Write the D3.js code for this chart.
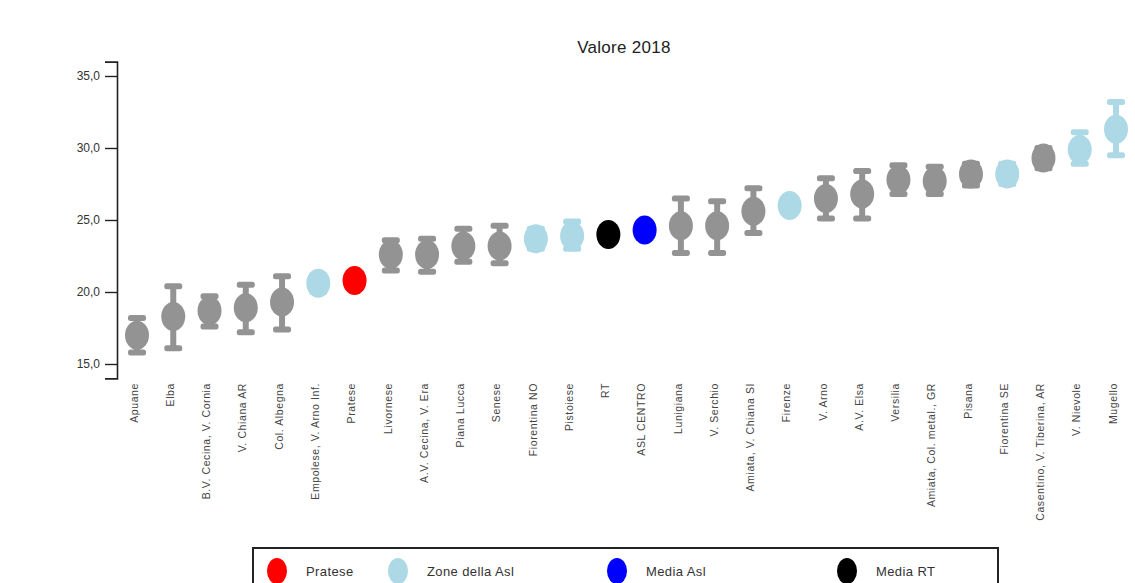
<!DOCTYPE html>
<html>
<head>
<meta charset="utf-8">
<script src="https://cdn.jsdelivr.net/npm/d3@7"></script>
<style>
  body { margin: 0; background: #fff; font-family: Arial, "Liberation Sans", sans-serif; }
</style>
</head>
<body>
<div id="chart"></div>
<script>
// zone names, in plotted order
var categories = ["Apuane", "Elba", "B.V. Cecina, V. Cornia", "V. Chiana AR", "Col. Albegna",
  "Empolese, V. Arno Inf.", "Pratese", "Livornese", "A.V. Cecina, V. Era", "Piana Lucca",
  "Senese", "Fiorentina NO", "Pistoiese", "RT", "ASL CENTRO", "Lunigiana", "V. Serchio",
  "Amiata, V. Chiana SI", "Firenze", "V. Arno", "A.V. Elsa", "Versilia",
  "Amiata, Col. metal., GR", "Pisana", "Fiorentina SE", "Casentino, V. Tiberina, AR",
  "V. Nievole", "Mugello"];
var values = [17.0, 18.3, 18.7, 18.9, 19.3, 20.6, 20.8, 22.6, 22.6, 23.2, 23.2, 23.7, 23.9,
  24.0, 24.3, 24.6, 24.6, 25.6, 26.0, 26.5, 26.8, 27.8, 27.7, 28.2, 28.2, 29.3, 29.9, 31.3];
var ciLow = [15.8, 16.1, 17.6, 17.2, 17.4, 20.0, 20.3, 21.5, 21.4, 22.1, 22.0, 23.0, 23.0,
  null, null, 22.7, 22.7, 24.1, 25.6, 25.1, 25.1, 26.8, 26.8, 27.4, 27.5, 28.6, 28.9, 29.5];
var ciHigh = [18.2, 20.4, 19.7, 20.5, 21.1, 21.2, 21.3, 23.6, 23.7, 24.4, 24.6, 24.4, 24.9,
  null, null, 26.5, 26.3, 27.2, 26.4, 27.9, 28.4, 28.8, 28.7, 28.9, 28.9, 30.0, 31.1, 33.2];
// group of each zone: g = other zones, z = zone della Asl, p = Pratese, a = media Asl, r = media RT
var groups = ["g", "g", "g", "g", "g", "z", "p", "g", "g", "g", "g", "z", "z", "r", "a", "g", "g",
  "g", "z", "g", "g", "g", "g", "g", "z", "g", "z", "z"];
var yTicks = [15, 20, 25, 30, 35];
var legendLabels = ["Pratese", "Zone della Asl", "Media Asl", "Media RT"];
var legendGroups = ["p", "z", "a", "r"];

var colors = { g: "#939393", z: "#add8e6", p: "#ff0000", a: "#0000ff", r: "#000000" };

var w = 1135, h = 583;

var data = categories.map(function(c, i) {
  return { name: c, value: values[i], lo: ciLow[i], hi: ciHigh[i], group: groups[i] };
});

var svg = d3.select("#chart").append("svg")
  .attr("width", w)
  .attr("height", h);

var xScale = d3.scalePoint()
  .domain(categories)
  .range([137, 1116]);

var yScale = d3.scaleLinear()
  .domain([14, 36])
  .range([378.4, 61.6]);

// title
svg.append("text")
  .attr("x", 624)
  .attr("y", 53)
  .attr("text-anchor", "middle")
  .style("font-size", "17px")
  .style("letter-spacing", "0.3px")
  .attr("fill", "#222")
  .text("Valore 2018");

// y axis
var yAxis = d3.axisLeft(yScale)
  .tickValues(yTicks)
  .tickSizeOuter(0)
  .tickSize(12)
  .tickPadding(5)
  .tickFormat(function(d) { return d3.format(".1f")(d).replace(".", ","); });

var gy = svg.append("g")
  .attr("transform", "translate(117,0)")
  .call(yAxis);
gy.select(".domain").attr("stroke", "#222").attr("stroke-width", 1.6);
gy.selectAll(".tick line").attr("stroke", "#222").attr("stroke-width", 1.4);
gy.selectAll(".tick text")
  .attr("fill", "#333")
  .style("font-size", "12px")
  .style("font-family", "Arial, 'Liberation Sans', sans-serif");

// category labels
svg.selectAll("text.cat")
  .data(data)
  .enter()
  .append("text")
  .attr("class", "cat")
  .attr("transform", function(d) { return "translate(" + (xScale(d.name) - 3) + ",383) rotate(-90)"; })
  .attr("text-anchor", "end")
  .attr("dy", "0.35em")
  .attr("fill", "#444")
  .style("font-size", "10.5px")
  .style("letter-spacing", "0.6px")
  .text(function(d) { return d.name; });

var withCi = data.filter(function(d) { return d.lo != null; });

// error bars
svg.selectAll("line.err")
  .data(withCi)
  .enter()
  .append("line")
  .attr("class", "err")
  .attr("x1", function(d) { return xScale(d.name); })
  .attr("x2", function(d) { return xScale(d.name); })
  .attr("y1", function(d) { return yScale(d.lo); })
  .attr("y2", function(d) { return yScale(d.hi); })
  .attr("stroke", function(d) { return colors[d.group]; })
  .attr("stroke-width", 6);

// caps
["lo", "hi"].forEach(function(k) {
  svg.selectAll("rect.cap-" + k)
    .data(withCi)
    .enter()
    .append("rect")
    .attr("class", "cap-" + k)
    .attr("x", function(d) { return xScale(d.name) - 9; })
    .attr("y", function(d) { return yScale(d[k]) - 3; })
    .attr("width", 18)
    .attr("height", 6)
    .attr("rx", 2.5)
    .attr("fill", function(d) { return colors[d.group]; });
});

// point markers
svg.selectAll("ellipse.pt")
  .data(data)
  .enter()
  .append("ellipse")
  .attr("class", "pt")
  .attr("cx", function(d) { return xScale(d.name); })
  .attr("cy", function(d) { return yScale(d.value); })
  .attr("rx", 12)
  .attr("ry", 14.5)
  .attr("fill", function(d) { return colors[d.group]; });

// legend
var legend = svg.append("g");
legend.append("rect")
  .attr("x", 253)
  .attr("y", 548)
  .attr("width", 745)
  .attr("height", 45)
  .attr("fill", "#fff")
  .attr("stroke", "#222")
  .attr("stroke-width", 2);

var legendX = [277, 398, 617, 847];
legendLabels.forEach(function(l, i) {
  legend.append("ellipse")
    .attr("cx", legendX[i])
    .attr("cy", 571)
    .attr("rx", 10)
    .attr("ry", 13)
    .attr("fill", colors[legendGroups[i]]);
  legend.append("text")
    .attr("x", legendX[i] + 29)
    .attr("y", 576)
    .attr("fill", "#333")
    .style("font-size", "13px")
    .style("letter-spacing", "0.4px")
    .text(l);
});
</script>
</body>
</html>
